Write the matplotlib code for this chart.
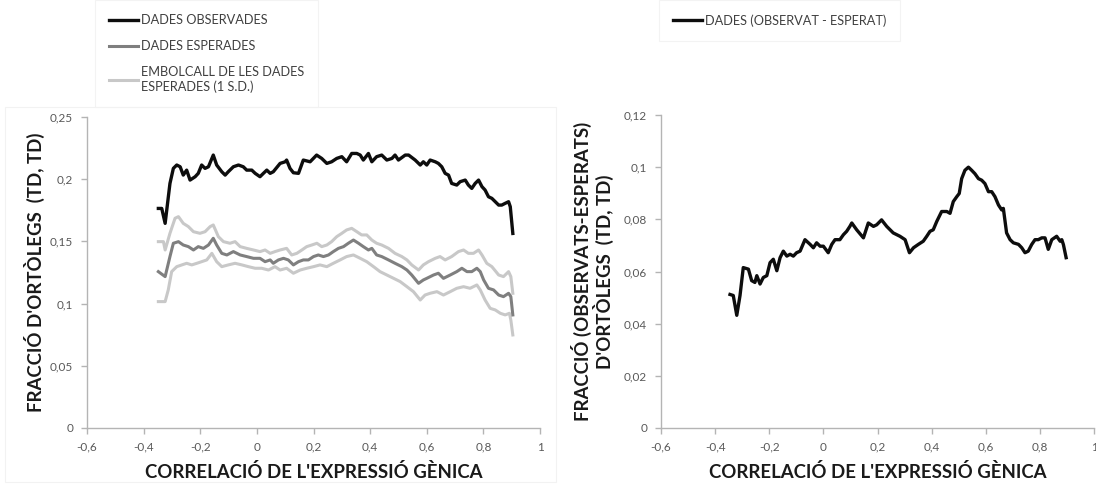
import matplotlib
matplotlib.use("Agg")
import matplotlib.pyplot as plt
from matplotlib.ticker import FuncFormatter, MultipleLocator
from matplotlib.lines import Line2D

plt.rcParams['font.family'] = ['Lato', 'DejaVu Sans']

# observed fraction of orthologs (TD, TD) vs expression correlation
obs_x = [-0.348, -0.336, -0.324, -0.307, -0.295, -0.283, -0.271, -0.260, -0.248, -0.236,
         -0.218, -0.207, -0.195, -0.183, -0.171, -0.154, -0.142, -0.124, -0.112, -0.101,
         -0.083, -0.065, -0.048, -0.036, -0.018, -0.006, 0.011, 0.023, 0.035, 0.047,
         0.058, 0.082, 0.100, 0.105, 0.117, 0.129, 0.147, 0.164, 0.188, 0.211,
         0.229, 0.247, 0.264, 0.282, 0.300, 0.317, 0.335, 0.353, 0.365, 0.376,
         0.394, 0.406, 0.423, 0.441, 0.459, 0.477, 0.488, 0.500, 0.524, 0.536,
         0.559, 0.577, 0.588, 0.600, 0.612, 0.630, 0.641, 0.653, 0.665, 0.677,
         0.688, 0.706, 0.718, 0.736, 0.747, 0.759, 0.771, 0.783, 0.795, 0.806,
         0.818, 0.830, 0.842, 0.854, 0.865, 0.877, 0.889, 0.895, 0.904]
obs_y = [0.1765, 0.1765, 0.1645, 0.1966, 0.2087, 0.2114, 0.2100, 0.2033, 0.2073, 0.1993,
         0.2020, 0.2047, 0.2114, 0.2087, 0.2100, 0.2194, 0.2114, 0.2060, 0.2033, 0.2060,
         0.2100, 0.2114, 0.2100, 0.2073, 0.2073, 0.2047, 0.2020, 0.2047, 0.2073, 0.2047,
         0.2060, 0.2127, 0.2140, 0.2154, 0.2087, 0.2052, 0.2047, 0.2154, 0.2140, 0.2194,
         0.2167, 0.2127, 0.2140, 0.2167, 0.2181, 0.2140, 0.2207, 0.2207, 0.2194, 0.2154,
         0.2207, 0.2140, 0.2181, 0.2194, 0.2154, 0.2167, 0.2194, 0.2154, 0.2194, 0.2194,
         0.2154, 0.2114, 0.2140, 0.2114, 0.2154, 0.2140, 0.2127, 0.2100, 0.2047, 0.2033,
         0.1966, 0.1953, 0.1980, 0.1993, 0.1953, 0.1926, 0.1966, 0.1993, 0.1940, 0.1913,
         0.1859, 0.1846, 0.1819, 0.1792, 0.1792, 0.1806, 0.1819, 0.1779, 0.1564]

# expected fraction
exp_x = [-0.348, -0.324, -0.307, -0.295, -0.277, -0.260, -0.242, -0.224, -0.207, -0.189,
         -0.171, -0.154, -0.142, -0.124, -0.106, -0.083, -0.059, -0.036, -0.012, 0.011,
         0.029, 0.047, 0.058, 0.076, 0.094, 0.111, 0.129, 0.147, 0.164, 0.182,
         0.200, 0.217, 0.235, 0.253, 0.270, 0.288, 0.306, 0.323, 0.341, 0.359,
         0.376, 0.394, 0.406, 0.423, 0.441, 0.465, 0.488, 0.512, 0.530, 0.547,
         0.571, 0.588, 0.600, 0.624, 0.641, 0.659, 0.683, 0.706, 0.724, 0.742,
         0.759, 0.777, 0.789, 0.801, 0.818, 0.836, 0.854, 0.871, 0.889, 0.897, 0.904]
exp_y = [0.1257, 0.1217, 0.1378, 0.1485, 0.1498, 0.1471, 0.1458, 0.1431, 0.1458, 0.1444,
         0.1471, 0.1525, 0.1471, 0.1404, 0.1391, 0.1418, 0.1391, 0.1378, 0.1364, 0.1364,
         0.1337, 0.1351, 0.1324, 0.1351, 0.1364, 0.1351, 0.1311, 0.1337, 0.1351, 0.1351,
         0.1378, 0.1391, 0.1378, 0.1391, 0.1418, 0.1444, 0.1458, 0.1485, 0.1511, 0.1485,
         0.1458, 0.1431, 0.1444, 0.1391, 0.1378, 0.1351, 0.1324, 0.1297, 0.1270, 0.1230,
         0.1163, 0.1190, 0.1203, 0.1230, 0.1244, 0.1203, 0.1230, 0.1257, 0.1284, 0.1257,
         0.1257, 0.1284, 0.1257, 0.1190, 0.1123, 0.1110, 0.1069, 0.1056, 0.1083, 0.1056, 0.0909]

# envelope of the expected data (1 S.D.)
up_x = [-0.348, -0.330, -0.324, -0.307, -0.289, -0.277, -0.260, -0.242, -0.224, -0.201,
        -0.183, -0.165, -0.154, -0.136, -0.118, -0.095, -0.077, -0.059, -0.036, -0.012,
        0.011, 0.029, 0.047, 0.064, 0.082, 0.105, 0.123, 0.141, 0.159, 0.176,
        0.194, 0.212, 0.229, 0.247, 0.264, 0.282, 0.300, 0.317, 0.335, 0.353,
        0.370, 0.388, 0.406, 0.423, 0.441, 0.465, 0.488, 0.512, 0.530, 0.547,
        0.571, 0.588, 0.606, 0.630, 0.647, 0.665, 0.688, 0.712, 0.730, 0.747,
        0.765, 0.783, 0.795, 0.812, 0.830, 0.854, 0.871, 0.889, 0.897, 0.904]
up_y = [0.1498, 0.1498, 0.1431, 0.1565, 0.1686, 0.1699, 0.1645, 0.1619, 0.1578, 0.1565,
        0.1578, 0.1619, 0.1632, 0.1538, 0.1498, 0.1485, 0.1498, 0.1458, 0.1444, 0.1431,
        0.1418, 0.1431, 0.1404, 0.1418, 0.1431, 0.1444, 0.1391, 0.1404, 0.1431, 0.1458,
        0.1471, 0.1485, 0.1458, 0.1471, 0.1498, 0.1538, 0.1565, 0.1592, 0.1605, 0.1578,
        0.1552, 0.1552, 0.1511, 0.1485, 0.1471, 0.1444, 0.1404, 0.1378, 0.1351, 0.1311,
        0.1270, 0.1311, 0.1337, 0.1364, 0.1378, 0.1351, 0.1378, 0.1418, 0.1431, 0.1404,
        0.1404, 0.1431, 0.1391, 0.1324, 0.1297, 0.1230, 0.1217, 0.1257, 0.1217, 0.1083]
lo_x = [-0.348, -0.324, -0.313, -0.301, -0.283, -0.265, -0.248, -0.230, -0.212, -0.195,
        -0.177, -0.159, -0.142, -0.124, -0.101, -0.077, -0.053, -0.030, -0.006, 0.017,
        0.041, 0.064, 0.082, 0.105, 0.129, 0.153, 0.176, 0.200, 0.223, 0.247,
        0.270, 0.294, 0.317, 0.341, 0.365, 0.388, 0.412, 0.435, 0.459, 0.483,
        0.506, 0.530, 0.553, 0.577, 0.594, 0.612, 0.636, 0.659, 0.683, 0.706,
        0.730, 0.753, 0.777, 0.789, 0.806, 0.824, 0.842, 0.860, 0.877, 0.892, 0.897, 0.904]
lo_y = [0.1016, 0.1016, 0.1110, 0.1257, 0.1297, 0.1311, 0.1324, 0.1311, 0.1324, 0.1337,
        0.1351, 0.1404, 0.1337, 0.1297, 0.1311, 0.1324, 0.1311, 0.1297, 0.1284, 0.1284,
        0.1270, 0.1297, 0.1270, 0.1284, 0.1244, 0.1270, 0.1284, 0.1297, 0.1311, 0.1297,
        0.1324, 0.1351, 0.1378, 0.1391, 0.1364, 0.1337, 0.1297, 0.1257, 0.1230, 0.1203,
        0.1177, 0.1136, 0.1096, 0.1029, 0.1069, 0.1083, 0.1096, 0.1069, 0.1096, 0.1123,
        0.1136, 0.1123, 0.1150, 0.1110, 0.1029, 0.0962, 0.0949, 0.0922, 0.0909, 0.0922, 0.0868, 0.0748]

# observed - expected
diff_x = [-0.345, -0.333, -0.320, -0.308, -0.296, -0.277, -0.265, -0.253, -0.246, -0.234,
          -0.222, -0.209, -0.197, -0.185, -0.172, -0.160, -0.148, -0.135, -0.123, -0.111,
          -0.099, -0.086, -0.068, -0.049, -0.037, -0.025, -0.012, 0.000, 0.018, 0.031,
          0.043, 0.061, 0.074, 0.086, 0.098, 0.105, 0.123, 0.148, 0.166, 0.185,
          0.197, 0.215, 0.234, 0.258, 0.283, 0.302, 0.318, 0.333, 0.351, 0.369,
          0.382, 0.394, 0.406, 0.419, 0.437, 0.456, 0.468, 0.480, 0.493, 0.502,
          0.511, 0.523, 0.536, 0.548, 0.560, 0.573, 0.585, 0.597, 0.610, 0.622,
          0.634, 0.647, 0.659, 0.665, 0.677, 0.690, 0.702, 0.721, 0.733, 0.745,
          0.757, 0.770, 0.782, 0.794, 0.807, 0.819, 0.831, 0.844, 0.862, 0.875,
          0.881, 0.887, 0.897]
diff_y = [0.0512, 0.0508, 0.0432, 0.0508, 0.0615, 0.0609, 0.0565, 0.0558, 0.0584, 0.0552,
          0.0577, 0.0584, 0.0634, 0.0647, 0.0603, 0.0653, 0.0678, 0.0659, 0.0666, 0.0659,
          0.0672, 0.0678, 0.0722, 0.0704, 0.0691, 0.0710, 0.0697, 0.0697, 0.0672, 0.0704,
          0.0722, 0.0722, 0.0741, 0.0754, 0.0773, 0.0786, 0.0760, 0.0729, 0.0786, 0.0773,
          0.0779, 0.0798, 0.0773, 0.0748, 0.0735, 0.0722, 0.0672, 0.0691, 0.0704, 0.0716,
          0.0735, 0.0754, 0.0760, 0.0792, 0.0830, 0.0830, 0.0823, 0.0868, 0.0887, 0.0899,
          0.0956, 0.0988, 0.1000, 0.0988, 0.0975, 0.0956, 0.0950, 0.0937, 0.0906, 0.0906,
          0.0887, 0.0855, 0.0836, 0.0842, 0.0748, 0.0722, 0.0710, 0.0704, 0.0691, 0.0672,
          0.0678, 0.0704, 0.0722, 0.0722, 0.0729, 0.0729, 0.0685, 0.0722, 0.0735, 0.0716,
          0.0722, 0.0703, 0.0653]

x_label = "CORRELACIÓ DE L'EXPRESSIÓ GÈNICA"
left_ylabel = "FRACCIÓ D'ORTÒLEGS  (TD, TD)"
right_ylabel = "FRACCIÓ (OBSERVATS-ESPERATS)\nD'ORTÒLEGS  (TD, TD)"

AXIS_GRAY = '#b4b4b4'
TICK_TXT = '#595959'
LABEL_CLR = '#1a1a1a'


def comma_fmt(v, pos):
    s = f"{v:.2f}".rstrip('0').rstrip('.')
    if s == '-0':
        s = '0'
    return s.replace('.', ',')


def style_axis(ax, ymax, ystep):
    ax.set_xlim(-0.6, 1.0)
    ax.set_ylim(0, ymax)
    ax.xaxis.set_major_locator(MultipleLocator(0.2))
    ax.yaxis.set_major_locator(MultipleLocator(ystep))
    ax.xaxis.set_major_formatter(FuncFormatter(comma_fmt))
    ax.yaxis.set_major_formatter(FuncFormatter(comma_fmt))
    for side in ('top', 'right'):
        ax.spines[side].set_visible(False)
    for side in ('left', 'bottom'):
        ax.spines[side].set_color(AXIS_GRAY)
        ax.spines[side].set_linewidth(1.0)
    ax.tick_params(direction='out', length=4, width=1.0, color=AXIS_GRAY,
                   labelsize=8.5, labelcolor=TICK_TXT, pad=6)
    ax.set_xlabel(x_label, fontsize=13.4, fontweight='bold', color=LABEL_CLR)


fig = plt.figure(figsize=(10.96, 4.87), dpi=100)

# faint frame around the left chart
fig.add_artist(plt.Rectangle((5 / 1096, 0.01), 551 / 1096, 1 - 107 / 487 - 0.01,
                             transform=fig.transFigure, fill=False,
                             edgecolor='#f2f2f2', linewidth=0.8))

ax1 = fig.add_axes([87 / 1096, 1 - 428 / 487, 453 / 1096, 311 / 487])
ax2 = fig.add_axes([661 / 1096, 1 - 428 / 487, 433 / 1096, 313 / 487])

style_axis(ax1, 0.25, 0.05)
style_axis(ax2, 0.12, 0.02)

env_color = '#c8c8c8'
ax1.plot(up_x, up_y, color=env_color, lw=2.2)
ax1.plot(lo_x, lo_y, color=env_color, lw=2.2)
ax1.plot(exp_x, exp_y, color='#7f7f7f', lw=2.2)
ax1.plot(obs_x, obs_y, color='#0d0d0d', lw=2.4)

ax2.plot(diff_x, diff_y, color='#0d0d0d', lw=2.4)

ax1.set_ylabel(left_ylabel, fontsize=13.4, fontweight='bold', color=LABEL_CLR)
ax2.set_ylabel(right_ylabel, fontsize=13.4, fontweight='bold', color=LABEL_CLR,
               linespacing=1.05)
ax1.yaxis.set_label_coords(-0.092, 0.5)
ax2.yaxis.set_label_coords(-0.108, 0.5)
ax1.xaxis.set_label_coords(0.5, -0.113)
ax2.xaxis.set_label_coords(0.5, -0.113)

leg_kw = dict(loc='upper left', bbox_transform=fig.transFigure, fontsize=9.2,
              handlelength=2.3, handletextpad=0.2, labelspacing=1.1,
              borderaxespad=0, borderpad=1.1, fancybox=False, edgecolor='#f0f0f0',
              labelcolor='#404040')
h1 = [Line2D([], [], color='#0d0d0d', lw=2.4),
      Line2D([], [], color='#7f7f7f', lw=2.2),
      Line2D([], [], color=env_color, lw=2.2)]
l1 = ['DADES OBSERVADES', 'DADES ESPERADES',
      'EMBOLCALL DE LES DADES\nESPERADES (1 S.D.)']
leg1 = ax1.legend(h1, l1, bbox_to_anchor=(95 / 1096, 1.0), **leg_kw)
leg1.get_frame().set_linewidth(0.8)

h2 = [Line2D([], [], color='#0d0d0d', lw=2.4)]
l2 = ['DADES (OBSERVAT - ESPERAT)']
leg2 = ax2.legend(h2, l2, bbox_to_anchor=(659 / 1096, 1.0), **leg_kw)
leg2.get_frame().set_linewidth(0.8)

fig.savefig('out.png', dpi=100, facecolor='white')
